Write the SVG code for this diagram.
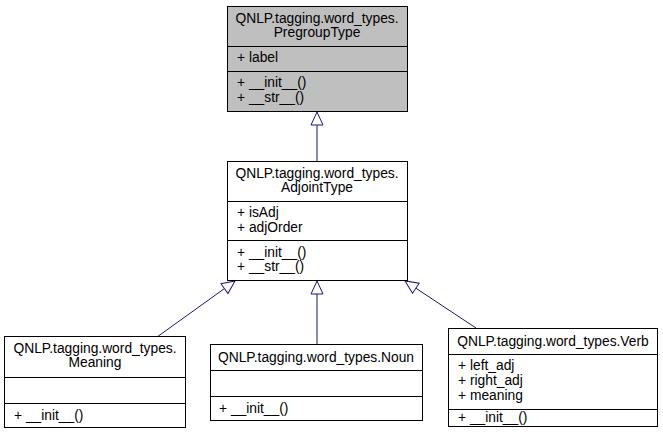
<svg xmlns="http://www.w3.org/2000/svg" width="663" height="441" viewBox="0 0 663 441">
<style>
text{font-family:"Liberation Sans",Arial,sans-serif;font-size:13.8px;fill:#000}
.b{fill:#fff;stroke:#000;stroke-width:1}
.g{fill:#bfbfbf;stroke:#000;stroke-width:1}
.l{stroke:#000;stroke-width:1}
.e{stroke:#191970;stroke-width:1;fill:none}
.c{text-anchor:middle}
</style>
<defs><marker id="a" markerWidth="16" markerHeight="14" refX="14" refY="7" orient="auto" markerUnits="userSpaceOnUse"><path d="M1,1 L14,7 L1,13 Z" fill="#fff" stroke="#191970"/></marker></defs>
<rect width="663" height="441" fill="#fff"/>
<g id="edges">
<line class="e" x1="317" y1="161" x2="317" y2="112" marker-end="url(#a)"/>
<line class="e" x1="157" y1="337" x2="235" y2="281" marker-end="url(#a)"/>
<line class="e" x1="317" y1="344" x2="317" y2="281" marker-end="url(#a)"/>
<line class="e" x1="476" y1="328" x2="405" y2="281" marker-end="url(#a)"/>
</g>
<g id="PregroupType">
<rect class="g" x="227.5" y="6.5" width="180" height="105"/>
<line class="l" x1="227.5" y1="46.5" x2="407.5" y2="46.5"/>
<line class="l" x1="227.5" y1="71.5" x2="407.5" y2="71.5"/>
<text class="c" x="317" y="23">QNLP.tagging.word_types.</text>
<text class="c" x="317" y="37">PregroupType</text>
<text x="237" y="62">+ label</text>
<text x="237" y="87">+ __init__()</text>
<text x="237" y="102">+ __str__()</text>
</g>
<g id="AdjointType">
<rect class="b" x="227.5" y="161.5" width="180" height="119"/>
<line class="l" x1="227.5" y1="201.5" x2="407.5" y2="201.5"/>
<line class="l" x1="227.5" y1="240.5" x2="407.5" y2="240.5"/>
<text class="c" x="317" y="178">QNLP.tagging.word_types.</text>
<text class="c" x="317" y="192">AdjointType</text>
<text x="237" y="217">+ isAdj</text>
<text x="237" y="232">+ adjOrder</text>
<text x="237" y="257">+ __init__()</text>
<text x="237" y="271">+ __str__()</text>
</g>
<g id="Meaning">
<rect class="b" x="4.5" y="336.5" width="181" height="91"/>
<line class="l" x1="4.5" y1="377.5" x2="185.5" y2="377.5"/>
<line class="l" x1="4.5" y1="403.5" x2="185.5" y2="403.5"/>
<text class="c" x="95" y="353">QNLP.tagging.word_types.</text>
<text class="c" x="95" y="367">Meaning</text>
<text x="14" y="420">+ __init__()</text>
</g>
<g id="Noun">
<rect class="b" x="210.5" y="344.5" width="212" height="76"/>
<line class="l" x1="210.5" y1="370.5" x2="422.5" y2="370.5"/>
<line class="l" x1="210.5" y1="396.5" x2="422.5" y2="396.5"/>
<text class="c" x="316" y="362">QNLP.tagging.word_types.Noun</text>
<text x="219" y="413">+ __init__()</text>
</g>
<g id="Verb">
<rect class="b" x="448.5" y="328.5" width="209" height="98"/>
<line class="l" x1="448.5" y1="354.5" x2="657.5" y2="354.5"/>
<line class="l" x1="448.5" y1="409.5" x2="657.5" y2="409.5"/>
<text class="c" x="553" y="346">QNLP.tagging.word_types.Verb</text>
<text x="458" y="370">+ left_adj</text>
<text x="458" y="385">+ right_adj</text>
<text x="458" y="400">+ meaning</text>
<text x="458" y="422">+ __init__()</text>
</g>
</svg>
